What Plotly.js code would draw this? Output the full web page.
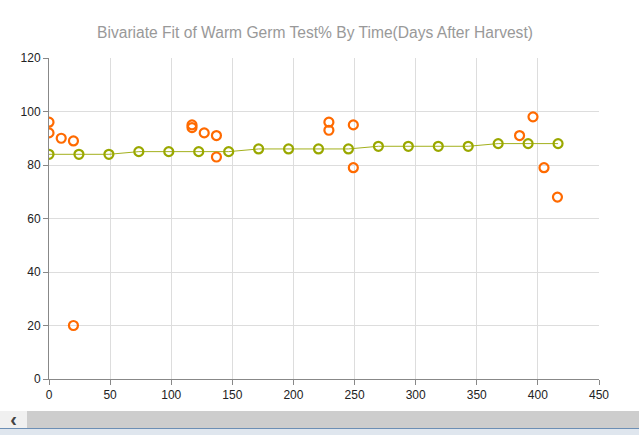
<!DOCTYPE html>
<html>
<head>
<meta charset="utf-8">
<script src="https://cdn.plot.ly/plotly-3.0.1.min.js"></script>
<style>
html,body{margin:0;padding:0;width:639px;height:435px;overflow:hidden;background:#fff;font-family:"Liberation Sans",Arial,sans-serif;}
#chart{width:639px;height:411px;}
#scroll{position:absolute;left:0;top:411px;width:639px;height:17px;background:#cdcdcd;}
#scroll .btn{position:absolute;left:0;top:0;width:27px;height:17px;background:#f0f0f0;color:#444;font-size:20px;font-weight:bold;line-height:16px;text-align:center;}
#task{position:absolute;left:0;top:428px;width:639px;height:7px;background:#dfe6ee;border-top:1px solid #6d8fb5;}
</style>
</head>
<body>
<div id="chart"></div>
<div id="scroll"><div class="btn">&#8249;</div></div>
<div id="task"></div>
<script>
// Observed data (Warm Germ Test %)
var obsDays = [0, 0, 10, 20, 20, 117, 117, 127, 137, 137, 229, 229, 249, 249, 385, 396, 405, 416];
var obsGerm = [96, 92, 90, 89, 20, 95, 94, 92, 91, 83, 96, 93, 95, 79, 91, 98, 79, 68];

// Fitted line
var fitDays = [0, 24.5, 49, 73.5, 98, 122.5, 147, 171.5, 196, 220.5, 245, 269.5, 294, 318.5, 343, 367.5, 392, 416.5];
var fitGerm = [84, 84, 84, 85, 85, 85, 85, 86, 86, 86, 86, 87, 87, 87, 87, 88, 88, 88];

var xTicks = [0, 50, 100, 150, 200, 250, 300, 350, 400, 450];
var yTicks = [0, 20, 40, 60, 80, 100, 120];

var traces = [
  {
    x: fitDays, y: fitGerm, type: 'scatter', mode: 'lines+markers',
    line: {color: '#a3b01c', width: 1},
    marker: {symbol: 'circle-open', size: 9, color: '#9aa800', line: {width: 2.2, color: '#9aa800'}},
    hoverinfo: 'x+y', showlegend: false
  },
  {
    x: obsDays, y: obsGerm, type: 'scatter', mode: 'markers',
    marker: {symbol: 'circle-open', size: 9, color: '#ff6a00', line: {width: 2.2, color: '#ff6a00'}},
    hoverinfo: 'x+y', showlegend: false
  }
];

var layout = {
  width: 639, height: 411,
  margin: {l: 49, r: 40, t: 58, b: 32},
  paper_bgcolor: '#ffffff', plot_bgcolor: '#ffffff',
  font: {family: 'Arial, "Liberation Sans", sans-serif', size: 12, color: '#222'},
  title: {text: 'Bivariate Fit of Warm Germ Test% By Time(Days After Harvest)',
          font: {size: 15.6, color: '#999999'}, x: 0.493, xanchor: 'center', y: 0.92, yanchor: 'middle'},
  xaxis: {
    range: [0, 450], tickvals: xTicks, ticktext: xTicks.map(String),
    showgrid: true, gridcolor: '#dddddd', gridwidth: 1,
    showline: true, linecolor: '#888888', linewidth: 1,
    ticks: 'outside', ticklen: 5, tickcolor: '#888888',
    zeroline: false, tickfont: {size: 12, color: '#222'}, fixedrange: true
  },
  yaxis: {
    range: [0, 120], tickvals: yTicks, ticktext: yTicks.map(String),
    showgrid: true, gridcolor: '#dddddd', gridwidth: 1,
    showline: true, linecolor: '#888888', linewidth: 1,
    ticks: 'outside', ticklen: 5, tickcolor: '#888888',
    zeroline: false, tickfont: {size: 12, color: '#222'}, fixedrange: true
  }
};

Plotly.newPlot('chart', traces, layout, {displayModeBar: false, staticPlot: true});
</script>
</body>
</html>
